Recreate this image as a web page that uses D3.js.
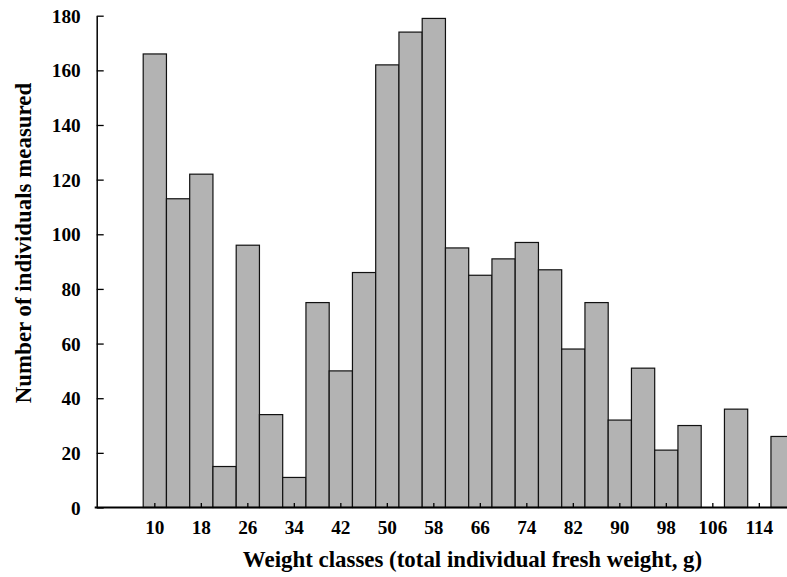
<!DOCTYPE html>
<html>
<head>
<meta charset="utf-8">
<script src="https://cdn.jsdelivr.net/npm/d3@7"></script>
<style>
  html, body { margin: 0; padding: 0; background: #fff; }
  svg { display: block; }
  text { font-family: "Liberation Serif", "Times New Roman", serif; font-weight: bold; fill: #000; }
</style>
</head>
<body>
<svg id="chart" width="787" height="577"></svg>
<script>
// Weight classes (g), 4 g wide, and the number of individuals in each
const weightClasses = [2, 6, 10, 14, 18, 22, 26, 30, 34, 38, 42, 46, 50, 54, 58,
                       62, 66, 70, 74, 78, 82, 86, 90, 94, 98, 102, 106, 110, 114, 118];
const counts = [0, 0, 166, 113, 122, 15, 96, 34, 11, 75, 50, 86, 162, 174, 179,
                95, 85, 91, 97, 87, 58, 75, 32, 51, 21, 30, 0, 36, 0, 26];
const xTickLabels = [10, 18, 26, 34, 42, 50, 58, 66, 74, 82, 90, 98, 106, 114];
const yTicks = [0, 20, 40, 60, 80, 100, 120, 140, 160, 180];

const svg = d3.select("#chart");

const left = 96.7, bandW = 23.25;
const x = d3.scaleBand()
  .domain(weightClasses)
  .range([left, left + bandW * weightClasses.length])
  .padding(0);

const y = d3.scaleLinear().domain([0, 180]).range([507.5, 15.7]);

// bars
svg.append("g")
  .selectAll("rect")
  .data(weightClasses.map((c, i) => ({ c, v: counts[i] })).filter(d => d.v > 0))
  .join("rect")
  .attr("x", d => x(d.c))
  .attr("y", d => y(d.v))
  .attr("width", x.bandwidth())
  .attr("height", d => y(0) - y(d.v))
  .attr("fill", "#b3b3b3")
  .attr("stroke", "#111")
  .attr("stroke-width", 1.2);

// y axis with inward ticks
const yAxis = d3.axisLeft(y).tickValues(yTicks).tickSizeInner(-7).tickSizeOuter(0).tickPadding(16);
const gy = svg.append("g").attr("transform", `translate(${left},0)`).call(yAxis);
gy.select(".domain").attr("stroke", "#000").attr("stroke-width", 1.5);
gy.selectAll(".tick line").attr("stroke", "#000").attr("stroke-width", 1.3);
gy.selectAll(".tick text").attr("font-size", 19.3).attr("x", -16).attr("dy", "0.34em");

// x axis, ticks and labels at every second class
const xAxis = d3.axisBottom(x).tickValues(xTickLabels).tickSizeInner(-4.5).tickSizeOuter(0).tickPadding(13);
const gx = svg.append("g").attr("transform", `translate(0,${y(0)})`).call(xAxis);
gx.select(".domain").attr("stroke", "#000").attr("stroke-width", 1.8)
  .attr("d", `M${left - 2},0H787`);
gx.selectAll(".tick line").attr("stroke", "#000").attr("stroke-width", 1.3);
gx.selectAll(".tick text").attr("font-size", 19.3).attr("y", 13).attr("dy", "0.71em");

// axis titles
svg.append("text")
  .attr("x", 472.5).attr("y", 567)
  .attr("text-anchor", "middle")
  .attr("font-size", 22.9)
  .text("Weight classes (total individual fresh weight, g)");

svg.append("text")
  .attr("transform", "translate(31,243) rotate(-90)")
  .attr("text-anchor", "middle")
  .attr("font-size", 22.9)
  .text("Number of individuals measured");
</script>
</body>
</html>
